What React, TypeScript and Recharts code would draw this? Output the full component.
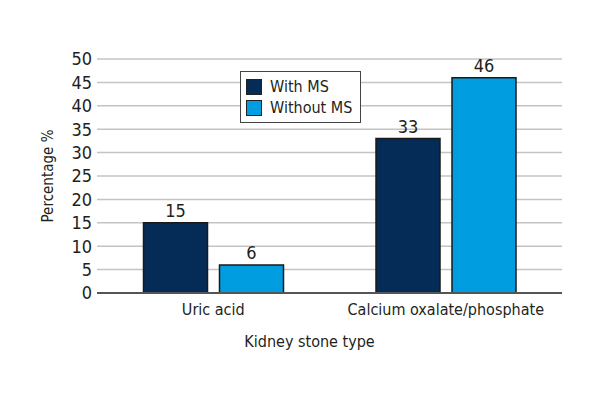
import { Bar, BarChart, CartesianGrid, LabelList, XAxis, YAxis } from "recharts"

// Kidney stone type vs. metabolic syndrome
const stoneTypes = ["Uric acid", "Calcium oxalate/phosphate"]
const withMS = [15, 33]
const withoutMS = [6, 46]
const yTicks = [0, 5, 10, 15, 20, 25, 30, 35, 40, 45, 50]
const seriesNames = ["With MS", "Without MS"]

const data = stoneTypes.map((type, i) => ({
  type,
  withMS: withMS[i],
  withoutMS: withoutMS[i],
}))

const FONT = "'Liberation Sans Narrow', 'DejaVu Sans Condensed', 'DejaVu Sans', sans-serif"
const TEXT = "#231f20"
const DARK = "#052c57"
const LIGHT = "#009ee0"

const textStyle = { fontStretch: "condensed" as const }

// legend sits on top of the plot, like in the original figure
const LegendBox = () => (
  <div
    style={{
      position: "absolute",
      left: 240,
      top: 71,
      border: "1.5px solid #444",
      background: "#fff",
      padding: "4px 8px 4px 5px",
      fontFamily: FONT,
      fontStretch: "condensed",
      fontSize: 16,
      color: TEXT,
      lineHeight: "21px",
    }}
  >
    {seriesNames.map((name, i) => (
      <div key={name} style={{ display: "flex", alignItems: "center", whiteSpace: "nowrap" }}>
        <span
          style={{
            display: "inline-block",
            width: 14,
            height: 14,
            background: i === 0 ? DARK : LIGHT,
            border: "1.5px solid #222",
            marginRight: 8,
          }}
        />
        {name}
      </div>
    ))}
  </div>
)

export default function App() {
  return (
    <div style={{ position: "absolute", left: 0, top: 0, width: 600, height: 400, background: "#fff" }}>
      <BarChart
        width={600}
        height={400}
        data={data}
        margin={{ top: 59, right: 38, left: 0, bottom: 47 }}
        barCategoryGap="20%"
        barGap={12}
      >
        <CartesianGrid vertical={false} stroke="#c4c4c4" strokeWidth={1.5} />
        <XAxis
          dataKey="type"
          height={60}
          tickLine={false}
          axisLine={{ stroke: "#555", strokeWidth: 2 }}
          tick={{ fill: TEXT, fontSize: 16, fontFamily: FONT, style: textStyle }}
          tickMargin={5}
          label={{
            value: "Kidney stone type",
            position: "insideBottom",
            offset: 6,
            dx: -20,
            fill: TEXT,
            fontSize: 16,
            fontFamily: FONT,
            style: textStyle,
          }}
        />
        <YAxis
          width={97}
          domain={[0, 50]}
          ticks={yTicks}
          interval={0}
          tickLine={false}
          axisLine={false}
          tickMargin={0}
          tickSize={5}
          tick={{ fill: TEXT, fontSize: 18, fontFamily: FONT, style: textStyle }}
          label={{
            value: "Percentage %",
            angle: -90,
            position: "insideLeft",
            offset: 48,
            style: { textAnchor: "middle", fontStretch: "condensed" },
            fill: TEXT,
            fontSize: 15,
            fontFamily: FONT,
          }}
        />
        <Bar dataKey="withMS" name={seriesNames[0]} fill={DARK} stroke="#1a1a1a" strokeWidth={1.5} isAnimationActive={false}>
          <LabelList dataKey="withMS" position="top" offset={6} fill={TEXT} fontSize={18} fontFamily={FONT} style={textStyle} />
        </Bar>
        <Bar dataKey="withoutMS" name={seriesNames[1]} fill={LIGHT} stroke="#1a1a1a" strokeWidth={1.5} isAnimationActive={false}>
          <LabelList dataKey="withoutMS" position="top" offset={6} fill={TEXT} fontSize={18} fontFamily={FONT} style={textStyle} />
        </Bar>
      </BarChart>
      <LegendBox />
    </div>
  )
}
